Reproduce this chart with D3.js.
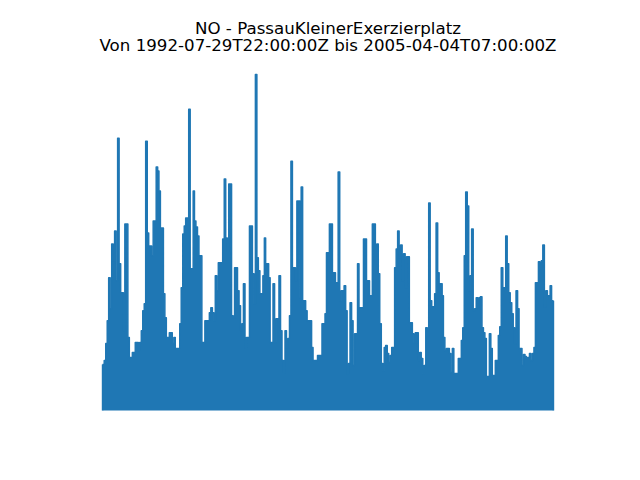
<!DOCTYPE html>
<html>
<head>
<meta charset="utf-8">
<script src="https://cdn.jsdelivr.net/npm/d3@7"></script>
<style>
  html, body { margin: 0; padding: 0; background: #ffffff; }
  svg { display: block; }
</style>
</head>
<body>
<svg id="chart" width="640" height="480"></svg>
<script>
// NO - Passau Kleiner Exerzierplatz: half-monthly maxima (hourly series)
const titleLine1 = "NO - PassauKleinerExerzierplatz";
const titleLine2 = "Von 1992-07-29T22:00:00Z bis 2005-04-04T07:00:00Z";
const startISO = "1992-07-29T22:00:00Z";
const endISO = "2005-04-04T07:00:00Z";

// each array: half-month maxima (1st-15th, 16th-end), first 1992 bin starts at the series start
const no1992 = [46, 50, 67, 90, 133, 102, 167, 150, 180, 130];
const no1993 = [273, 147, 118, 118, 80, 187, 187, 73, 53, 53, 58, 58, 68, 68, 60, 68, 80, 100, 107, 270, 178, 165, 165, 155];
const no1994 = [190, 190, 244, 240, 220, 183, 183, 117, 93, 73, 73, 78, 78, 67, 73, 62, 62, 62, 87, 123, 177, 185, 193, 193];
const no1995 = [302, 142, 142, 220, 190, 184, 175, 155, 155, 68, 68, 90, 90, 90, 98, 103, 98, 90, 135, 120, 148, 148, 148, 172];
const no1996 = [232, 173, 160, 227, 227, 95, 93, 143, 143, 120, 105, 80, 87, 127, 63, 73, 73, 185, 185, 137, 107, 337, 153, 140];
const no1997 = [117, 117, 135, 173, 147, 147, 133, 68, 68, 127, 68, 92, 92, 135, 80, 50, 38, 80, 63, 72, 95, 250, 143, 143];
const no1998 = [130, 210, 210, 113, 224, 110, 110, 100, 90, 90, 90, 63, 50, 50, 50, 55, 55, 55, 87, 87, 97, 158, 158, 187];
const no1999 = [187, 138, 138, 128, 128, 239, 110, 120, 120, 125, 100, 37, 47, 108, 90, 45, 77, 77, 147, 103, 103, 103, 172, 172];
const no2000 = [130, 130, 115, 115, 187, 187, 147, 167, 137, 87, 47, 40, 63, 65, 57, 48, 55, 63, 63, 143, 162, 180, 153, 166];
const no2001 = [130, 157, 123, 154, 154, 88, 88, 77, 68, 78, 78, 50, 58, 52, 37, 45, 83, 75, 208, 110, 104, 104, 117, 188];
const no2002 = [138, 127, 127, 115, 73, 60, 62, 62, 57, 38, 62, 37, 37, 37, 52, 52, 70, 83, 155, 219, 205, 120, 135, 182];
const no2003 = [100, 102, 113, 103, 113, 114, 83, 78, 72, 34, 34, 77, 62, 35, 35, 50, 50, 75, 84, 143, 123, 123, 175, 147];
const no2004 = [118, 108, 97, 83, 67, 120, 102, 62, 62, 45, 56, 54, 52, 53, 57, 50, 57, 63, 128, 128, 149, 142, 150, 166];
const no2005 = [104, 120, 115, 115, 125, 110];
const baselineValue = 0;

const values = [].concat(no1992, no1993, no1994, no1995, no1996, no1997, no1998,
  no1999, no2000, no2001, no2002, no2003, no2004, no2005);

const startDate = new Date(startISO);
const endDate = new Date(endISO);

// half-month bin boundaries
const bounds = [startDate];
{
  let y = 1992, m = 7, d = 16;
  const last = Date.UTC(2005, 2, 16);
  while (true) {
    const t = Date.UTC(y, m, d);
    if (t > last) break;
    bounds.push(new Date(t));
    if (d === 1) { d = 16; } else { d = 1; m++; if (m === 12) { m = 0; y++; } }
  }
}
bounds.push(endDate);

const points = values.map((v, i) => ({ t: bounds[i], v: v }));
points.push({ t: endDate, v: values[values.length - 1] });

const W = 640, H = 480;
const axLeft = 0.125 * W, axRight = 0.9 * W, axTop = 0.12 * H, axBottom = 0.89 * H;

const span = endDate - startDate;
const x = d3.scaleUtc()
  .domain([new Date(+startDate - 0.05 * span), new Date(+endDate + 0.05 * span)])
  .range([axLeft, axRight]);

const vMax = d3.max(values);
const vSpan = vMax - baselineValue;
const y = d3.scaleLinear()
  .domain([baselineValue - 0.05 * vSpan, vMax + 0.05 * vSpan])
  .range([axBottom, axTop]);

const svg = d3.select("#chart");
const color = "#1f77b4";

svg.append("path")
  .datum(points)
  .attr("fill", color)
  .attr("stroke", "none")
  .attr("d", d3.area()
    .curve(d3.curveStepAfter)
    .x(d => x(d.t))
    .y0(y(baselineValue))
    .y1(d => y(d.v)));

svg.append("path")
  .datum(points)
  .attr("fill", "none")
  .attr("stroke", color)
  .attr("stroke-width", 1.5)
  .attr("stroke-linejoin", "round")
  .attr("d", d3.line()
    .curve(d3.curveStepAfter)
    .x(d => x(d.t))
    .y(d => y(d.v)));

// left and right vertical edges of the dense series
svg.append("path")
  .datum([points[0], points[points.length - 1]])
  .attr("fill", "none")
  .attr("stroke", color)
  .attr("stroke-width", 1.5)
  .attr("d", d => `M${x(d[0].t)},${y(baselineValue)}V${y(d[0].v)}M${x(d[1].t)},${y(baselineValue)}V${y(d[1].v)}`);

const titleX = (axLeft + axRight) / 2;
svg.append("text")
  .attr("x", titleX).attr("y", 34.3)
  .attr("text-anchor", "middle")
  .attr("font-family", "DejaVu Sans")
  .attr("font-size", "16.67px")
  .attr("fill", "#000")
  .text(titleLine1);
svg.append("text")
  .attr("x", titleX).attr("y", 50.7)
  .attr("text-anchor", "middle")
  .attr("font-family", "DejaVu Sans")
  .attr("font-size", "16.67px")
  .attr("fill", "#000")
  .text(titleLine2);
</script>
</body>
</html>
